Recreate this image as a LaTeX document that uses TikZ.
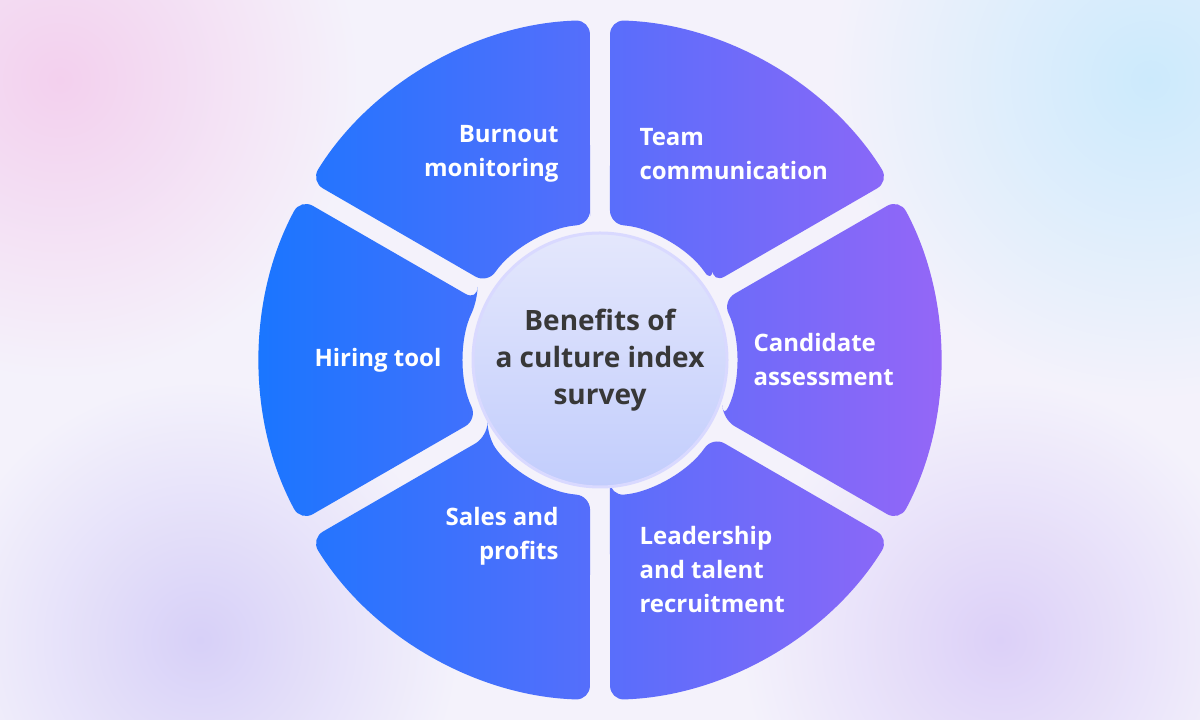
\documentclass[tikz,border=0pt]{standalone}
\usepackage{fontspec}
\setmainfont{Open Sans}
\begin{document}
\begin{tikzpicture}[x=1pt,y=1pt,
  lab/.style={text=white,font=\fontsize{24}{34}\selectfont\bfseries},
  mid/.style={text=black!78,font=\fontsize{28}{37}\selectfont\bfseries,align=center}]
\definecolor{bg}{HTML}{F4F2FB}
\useasboundingbox (0,0) rectangle (1200,720);
\fill[bg] (0,0) rectangle (1200,720);
\shade[inner color={rgb,255:red,243;green,208;blue,238},outer color=bg] (60,640) circle (300pt);
\shade[inner color={rgb,255:red,204;green,234;blue,252},outer color=bg] (1150,640) circle (320pt);
\shade[inner color={rgb,255:red,215;green,208;blue,248},outer color=bg] (200,80) circle (260pt);
\shade[inner color={rgb,255:red,220;green,208;blue,248},outer color=bg] (1000,80) circle (260pt);
\begin{scope}[shift={(600,360)}]
\shade[left color={rgb,255:red,24;green,118;blue,255},right color={rgb,255:red,150;green,102;blue,247},rounded corners=14pt]
 \foreach \a in {90,30,-30,-90,-150,150}{
  (\a+4.2:136pt) -- (\a+1.7:340pt) arc[start angle=\a+1.7,end angle=\a+58.3,radius=340pt]
  -- (\a+55.8:136pt) arc[start angle=\a+55.8,end angle=\a+4.2,radius=136pt] -- cycle
 };
\shade[top color={rgb,255:red,228;green,231;blue,252},bottom color={rgb,255:red,194;green,205;blue,252},draw=white!85!blue,line width=3pt] (0,0) circle (127pt);
\node[mid] (c) at (0,0) {Benefits of\\a culture index\\survey};
\end{scope}
\node[lab,align=right,anchor=east] (b) at (562,566) {Burnout\\monitoring};
\node[lab,align=left,anchor=west] (t) at (636,566) {Team\\communication};
\node[lab,anchor=center] (h) at (378,360) {Hiring tool};
\node[lab,align=left,anchor=west] (ca) at (750,360) {Candidate\\assessment};
\node[lab,align=right,anchor=east] (s) at (562,184) {Sales and\\profits};
\node[lab,align=left,anchor=west] (l) at (636,150) {Leadership\\and talent\\recruitment};
\end{tikzpicture}
\end{document}
